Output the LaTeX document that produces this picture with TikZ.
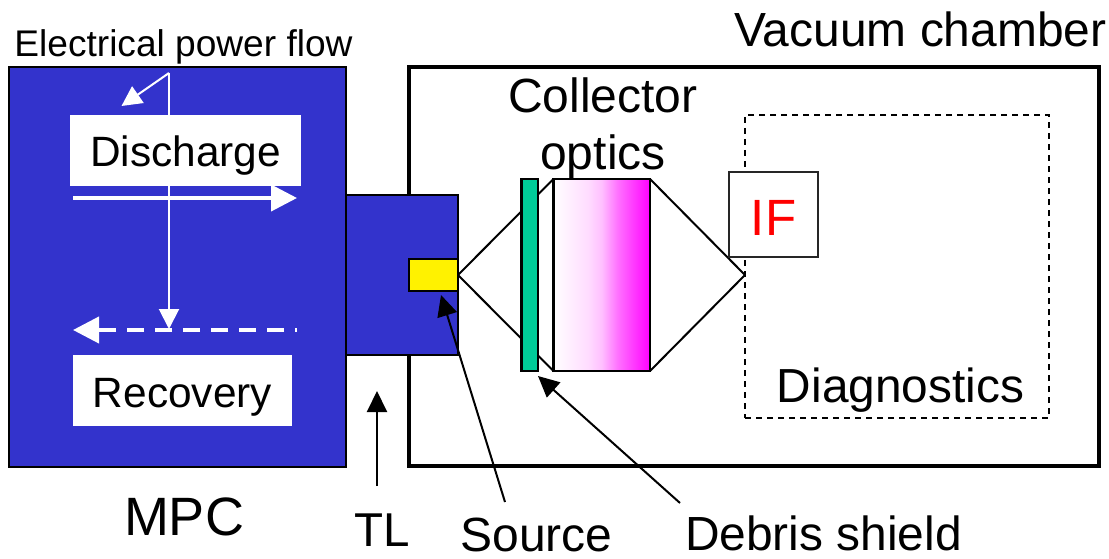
\documentclass[tikz,border=0pt]{standalone}
\usepackage{fontspec}
\setmainfont{Liberation Sans}
\usetikzlibrary{arrows.meta}
\definecolor{mpcblue}{HTML}{3333CC}
\definecolor{shieldgreen}{HTML}{00CC99}
\pgfdeclarehorizontalshading{optshade}{100bp}{color(0bp)=(white);color(25bp)=(white);color(43bp)=(magenta!14);color(50bp)=(magenta!25);color(58bp)=(magenta!55);color(75bp)=(magenta);color(100bp)=(magenta)}
\newcommand{\fs}[1]{\fontsize{#1}{#1}\selectfont}
\tikzset{
  box/.style={rectangle,inner sep=0pt,outer sep=0pt,draw=black},
  lab/.style={inner sep=0pt,outer sep=0pt,anchor=base,text=black},
  whitebox/.style={rectangle,inner sep=0pt,outer sep=0pt,fill=white,text height=33pt,text depth=0pt},
  ray/.style={draw=black,line width=2pt},
  callout/.style={draw=black,line width=2pt,-{Triangle[length=21pt,width=20pt]}},
  whitethin/.style={draw=white,line width=2pt},
  whitethick/.style={draw=white,line width=4pt,-{Triangle[length=26pt,width=26pt]}}
}
\begin{document}
\begin{tikzpicture}[x=1pt,y=-1pt]
\useasboundingbox (0,0) rectangle (1109,559);
% boxes
\node[box,line width=4pt,minimum width=690pt,minimum height=399pt] (chamber) at (754,266.5) {};
\node[box,line width=2pt,dash pattern=on 6pt off 5pt,minimum width=304pt,minimum height=303pt] (diag) at (897,266.5) {};
\coordinate (focus) at (745,275);
\node[box,fill=mpcblue,line width=2.5pt,minimum width=337pt,minimum height=400pt] (mpc) at (177.5,267) {};
\node[box,fill=mpcblue,line width=2.5pt,minimum width=112pt,minimum height=160pt] (tl) at (402,275) {};
\node[box,fill=yellow,line width=2.5pt,minimum width=49pt,minimum height=32pt] (source) at (433.5,275) {};
\node[box,shading=optshade,line width=2.5pt,minimum width=96.5pt,minimum height=192pt] (optics) at (601.75,275) {};
% rays
\draw[ray] (source.east) -- (optics.north west);
\draw[ray] (source.east) -- (optics.south west);
\draw[ray] (optics.north east) -- (focus);
\draw[ray] (optics.south east) -- (focus);
\node[box,fill=shieldgreen,line width=2.5pt,minimum width=16.5pt,minimum height=192pt] (shield) at (529.5,275) {};
\node[box,fill=white,draw=black!85,line width=2pt,inner sep=0pt,minimum width=88.4pt,minimum height=85.3pt,text height=40.6pt,text depth=0pt,text=red,font=\fs{51}] (if) at (773.5,214.7) {IF};
% white power flow
\coordinate (ptop) at (169,73);
\coordinate (pdiag) at (121.5,106);
\coordinate (pdown) at (169,329);
\draw[whitethin,-{Triangle[length=20pt,width=20pt]}] (ptop) -- (pdiag);
\draw[whitethin,-{Triangle[length=20pt,width=20pt]}] (ptop) -- (pdown);
\node[whitebox,minimum width=231pt,minimum height=71pt,font=\fs{42.4}] (discharge) at (185.5,150.5) {Discharge};
\node[whitebox,minimum width=219pt,minimum height=71pt,font=\fs{42.4}] (recovery) at (182.5,390.5) {Recovery};
\coordinate (fa) at (73,198);
\coordinate (fb) at (297,198);
\coordinate (ra) at (297,330);
\coordinate (rb) at (73,330);
\draw[whitethick] (fa) -- (fb);
\draw[whitethick,dash pattern=on 17pt off 11pt,dash phase=15pt] (ra) -- (rb);
% labels
\node[lab,font=\fs{37.1}] (elec) at (183.5,56.5) {Electrical power flow};
\node[lab,font=\fs{47.9}] (vac) at (920.5,47) {Vacuum chamber};
\node[lab,font=\fs{48}] (coll) at (603,112.5) {Collector};
\node[lab,font=\fs{48}] (opt) at (603,169.5) {optics};
\node[lab,font=\fs{47.8}] (diaglab) at (900.5,402.5) {Diagnostics};
\node[lab,font=\fs{54}] (mpclab) at (184,535) {MPC};
\node[lab,font=\fs{47.5}] (tllab) at (382.5,546) {TL};
\node[lab,font=\fs{48}] (srclab) at (536.5,551) {Source};
\node[lab,font=\fs{47.9}] (deblab) at (823.5,550.5) {Debris shield};
% callouts
\coordinate (tlfrom) at (377,486);
\coordinate (tlto) at (377,391);
\coordinate (srcfrom) at (505,502);
\coordinate (srcto) at (441,295);
\coordinate (debfrom) at (680,503);
\coordinate (debto) at (538,376);
\draw[callout] (tlfrom) -- (tlto);
\draw[callout] (srcfrom) -- (srcto);
\draw[callout] (debfrom) -- (debto);
\end{tikzpicture}
\end{document}
